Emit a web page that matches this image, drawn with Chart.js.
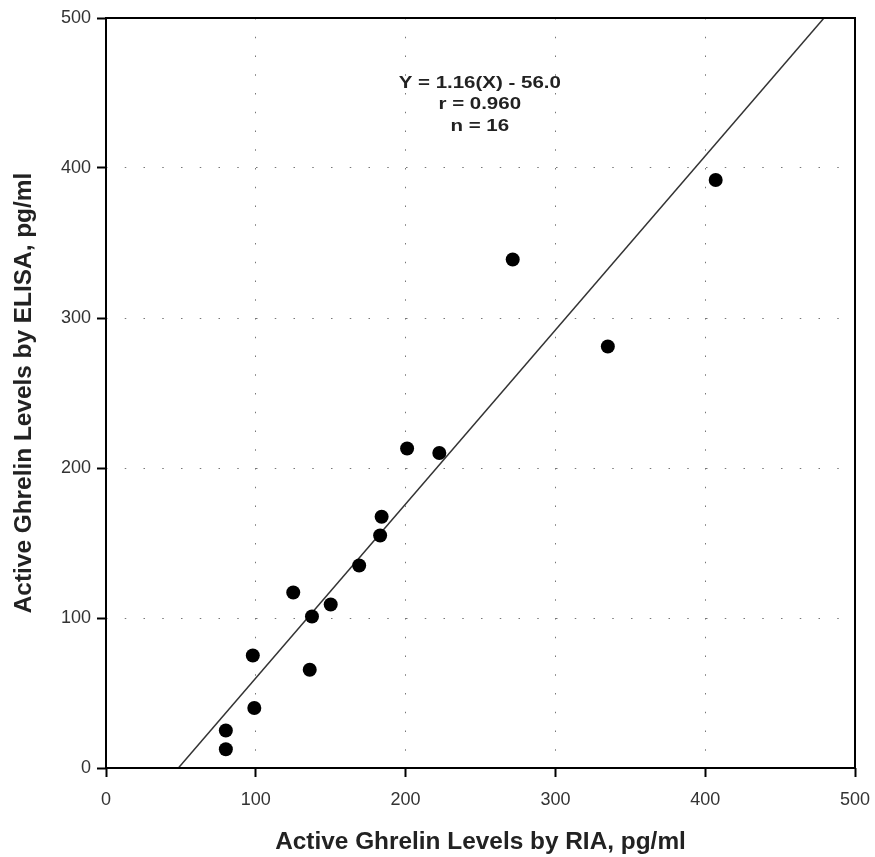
<!DOCTYPE html>
<html>
<head>
<meta charset="utf-8">
<script src="https://cdn.jsdelivr.net/npm/chart.js@4/dist/chart.umd.min.js"></script>
<style>
  html, body { margin: 0; padding: 0; background: #fff; }
  #wrap { width: 875px; height: 857px; }
</style>
</head>
<body>
<div id="wrap"><canvas id="ghrelin" width="875" height="857"></canvas></div>
<script>
// values
const riaLevels   = [80, 80, 99, 98, 136, 125, 137.5, 150, 169, 183, 184, 201, 222.5, 271.5, 335, 407];
const elisaLevels = [25, 12.5, 40, 75, 65.5, 117, 101, 109, 135, 155, 167.5, 213, 210, 339, 281, 392];
const fitX = [48.3, 479.3];   // regression line end points
const fitY = [0, 500];
const tickValues = [0, 100, 200, 300, 400, 500];
const statLines = ["Y = 1.16(X) - 56.0", "r = 0.960", "n = 16"];

const points = riaLevels.map((x, i) => ({ x: x, y: elisaLevels[i] }));
const fitLine = fitX.map((x, i) => ({ x: x, y: fitY[i] }));

const FONT = "'Liberation Sans', Arial, sans-serif";

// box round the plot + regression text
const framePlugin = {
  id: "frame",
  afterDatasetsDraw(chart) {
    const { ctx, chartArea: a, scales } = chart;
    ctx.save();
    ctx.strokeStyle = "#000";
    ctx.lineWidth = 2;
    ctx.strokeRect(a.left, a.top, a.right - a.left, a.bottom - a.top);
    ctx.fillStyle = "#222";
    ctx.font = "bold 16px " + FONT;
    ctx.textAlign = "center";
    ctx.textBaseline = "middle";
    const cx = scales.x.getPixelForValue(249.5);
    statLines.forEach((t, i) => {
      const cy = scales.y.getPixelForValue(456.5 - i * 14.3);
      ctx.save();
      ctx.translate(cx, cy);
      ctx.scale(1.28, 1);   // the original text is a bit wide
      ctx.fillText(t, 0, 0);
      ctx.restore();
    });
    ctx.restore();
  }
};

function gridColor(c) {
  const v = c.tick ? c.tick.value : 0;
  return (v === 0 || v === 500) ? "rgba(0,0,0,0)" : "#777";
}

const axisCommon = {
  min: 0,
  max: 500,
  afterBuildTicks: (s) => { s.ticks = tickValues.map(v => ({ value: v })); },
  border: { display: false, dash: [1.5, 17.25] },
  grid: {
    color: gridColor,
    lineWidth: 1,
    drawTicks: true,
    tickLength: 9,
    tickColor: "#000",
    tickWidth: 2
  },
  ticks: {
    color: "#333",
    font: { family: FONT, size: 18 }
  }
};

new Chart(document.getElementById("ghrelin"), {
  type: "scatter",
  data: {
    datasets: [
      {
        label: "samples",
        data: points,
        backgroundColor: "#000",
        borderColor: "#000",
        pointRadius: 7,
        pointHoverRadius: 7,
        borderWidth: 0
      },
      {
        type: "line",
        label: "fit",
        data: fitLine,
        borderColor: "#333",
        borderWidth: 1.5,
        pointRadius: 0,
        fill: false,
        showLine: true
      }
    ]
  },
  options: {
    responsive: false,
    animation: false,
    events: [],
    layout: { padding: { left: 0, right: 20, top: 18, bottom: 0 } },
    plugins: { legend: { display: false }, tooltip: { enabled: false } },
    scales: {
      x: {
        ...axisCommon,
        type: "linear",
        position: "bottom",
        ticks: { ...axisCommon.ticks, padding: 12 },
        afterFit: (s) => { s.height = 89; s.paddingLeft = 0; s.paddingRight = 0; },
        title: {
          display: true,
          text: "Active Ghrelin Levels by RIA, pg/ml",
          color: "#222",
          font: { family: FONT, size: 24.4, weight: "bold" },
          padding: { top: 0, bottom: 0 }
        }
      },
      y: {
        ...axisCommon,
        type: "linear",
        position: "left",
        ticks: { ...axisCommon.ticks, padding: 6 },
        afterFit: (s) => { s.width = 106; s.paddingTop = 0; s.paddingBottom = 0; },
        title: {
          display: true,
          text: "Active Ghrelin Levels by ELISA, pg/ml",
          color: "#222",
          font: { family: FONT, size: 24.4, weight: "bold" },
          padding: { top: 10, bottom: 0 }
        }
      }
    }
  },
  plugins: [framePlugin]
});
</script>
</body>
</html>
